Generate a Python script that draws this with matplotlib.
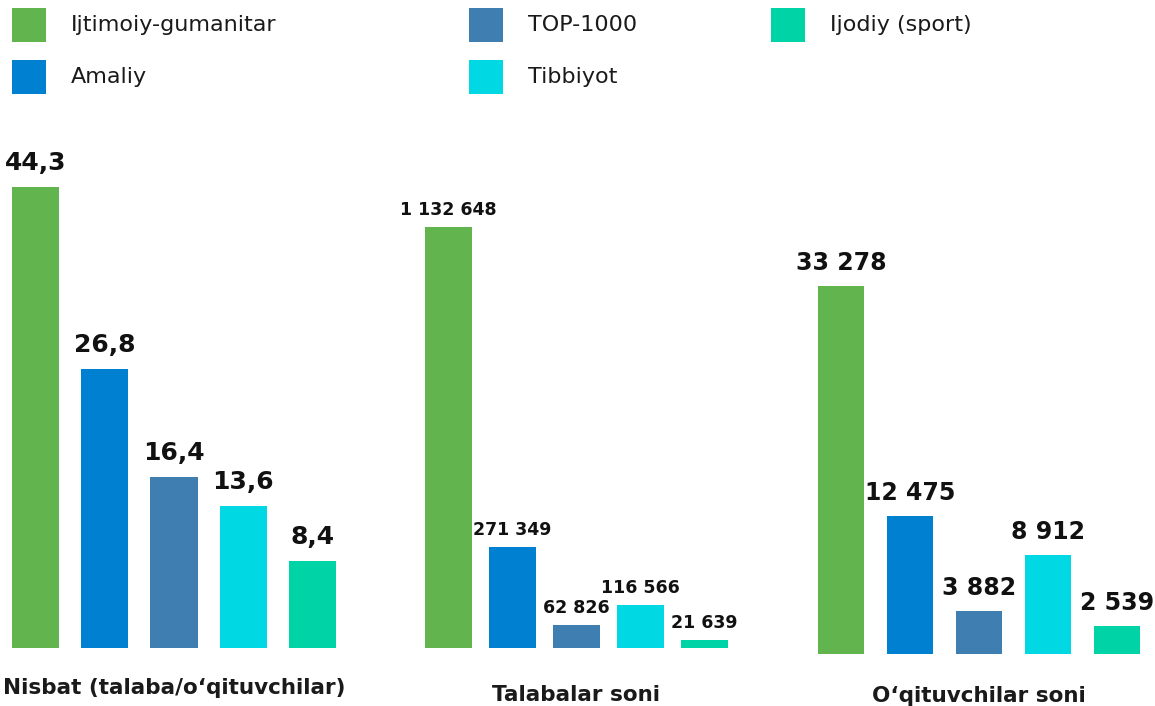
import matplotlib
matplotlib.use("Agg")
import matplotlib.pyplot as plt
from matplotlib.patches import Rectangle

plt.rcParams['font.family'] = ['DejaVu Sans']

categories = ["Ijtimoiy-gumanitar", "Amaliy", "TOP-1000", "Tibbiyot", "Ijodiy (sport)"]
colors = ["#62b44e", "#0080d1", "#3e7eb0", "#00d8e3", "#00d3a6"]

group_titles = ["Nisbat (talaba/o‘qituvchilar)", "Talabalar soni", "O‘qituvchilar soni"]
ratio_values = [44.3, 26.8, 16.4, 13.6, 8.4]
ratio_labels = ["44,3", "26,8", "16,4", "13,6", "8,4"]
student_values = [1132648, 271349, 62826, 116566, 21639]
student_labels = ["1 132 648", "271 349", "62 826", "116 566", "21 639"]
teacher_values = [33278, 12475, 3882, 8912, 2539]
teacher_labels = ["33 278", "12 475", "3 882", "8 912", "2 539"]

W, H = 1155, 706
fig = plt.figure(figsize=(W / 100, H / 100), dpi=100)

def px_axes(left, right, bottom_y, top_y):
    return fig.add_axes([left / W, (H - bottom_y) / H, (right - left) / W, (bottom_y - top_y) / H])

panels = [
    # left, right, baseline y, top y, spacing px, bar width px, values, labels, fontsize, offset px, title baseline y
    (12, 336, 648, 187, 69, 47, ratio_values, ratio_labels, 18, 17, 694),
    (425, 728, 648, 227, 64, 47, student_values, student_labels, 12.5, 12, 701),
    (818, 1140, 654, 286, 69, 46, teacher_values, teacher_labels, 17, 16, 702),
]

for (left, right, base, top, sp, bw, vals, labs, fs, off, ty), title in zip(panels, group_titles):
    ax = px_axes(left, right, base, top)
    w = bw / sp
    x = list(range(len(vals)))
    ax.bar(x, vals, width=w, color=colors)
    ax.set_xlim(-w / 2, len(vals) - 1 + w / 2)
    ax.set_ylim(0, max(vals))
    ax.axis('off')
    for xi, v, lab in zip(x, vals, labs):
        ax.annotate(lab, (xi, v), xytext=(0, off * 0.72), textcoords='offset points',
                    ha='center', va='baseline', fontsize=fs, fontweight='bold', color='#111111',
                    annotation_clip=False)
    fig.text(((left + right) / 2) / W, (H - ty) / H, title, ha='center', va='baseline',
             fontsize=15.5, fontweight='bold', color='#1a1a1a')

# legend
leg_pos = [(12, 8), (12, 60), (469, 8), (469, 60), (771, 8)]
for (lx, ly), cat, col in zip(leg_pos, categories, colors):
    fig.add_artist(Rectangle((lx / W, (H - ly - 34) / H), 34 / W, 34 / H,
                             transform=fig.transFigure, facecolor=col, edgecolor='none'))
    fig.text((lx + 59) / W, (H - ly - 17) / H, cat, ha='left', va='center',
             fontsize=16, color='#1a1a1a')

fig.savefig("out.png", dpi=100)
